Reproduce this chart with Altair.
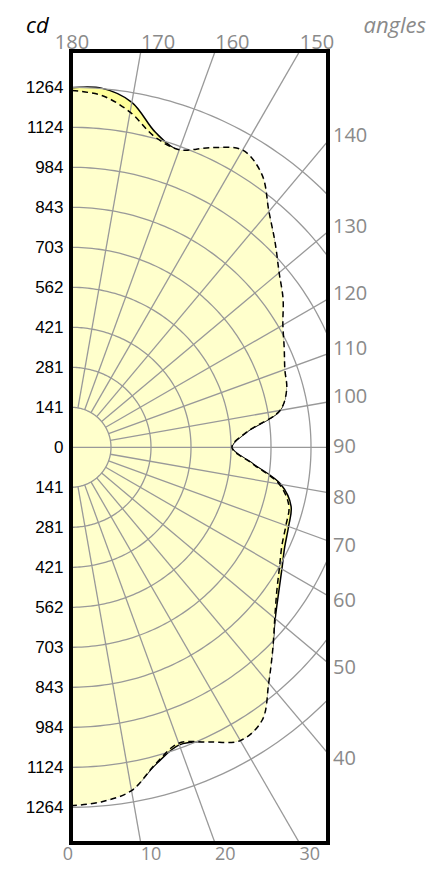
import math
import numpy as np
import pandas as pd
import altair as alt

# ---------------- data ----------------
angles = list(range(0, 181, 5))
solid_cd = [1255, 1245, 1220, 1152, 1112, 1138, 1185, 1166, 1076, 1000,
            936, 890, 855, 828, 813, 800, 748, 638, 565, 620,
            745, 782, 795, 822, 855, 905, 950, 1010, 1077, 1165,
            1201, 1157, 1108, 1145, 1230, 1265, 1262]
dashed_cd = [1259, 1249, 1224, 1150, 1106, 1142, 1189, 1170, 1080, 1002,
             934, 882, 845, 817, 803, 792, 742, 636, 565, 620,
             745, 784, 799, 826, 859, 909, 954, 1014, 1081, 1169,
             1205, 1161, 1112, 1130, 1195, 1240, 1253]
ring_labels = ["0", "141", "281", "421", "562", "703", "843", "984", "1124", "1264"]
ring_max = 1264
n_rings = 9
top_angles = [170, 160, 150]
corner_top = [180]
right_angles = [140, 130, 120, 110, 100, 90, 80, 70, 60, 50, 40]
bottom_angles = [10, 20, 30]
corner_bottom = [0]
spoke_angles = list(range(10, 180, 10))

# ---------------- layout ----------------
W, H = 257, 792
PAD_TOP = 43
step = ring_max / n_rings
px_per_cd = 40.0 / step
X_MAX = W / px_per_cd
ORIGIN_FROM_TOP = 396.3
Y_TOP = ORIGIN_FROM_TOP / px_per_cd
Y_BOT = -(H - ORIGIN_FROM_TOP) / px_per_cd

GRID = "#999999"
LABEL_GRAY = "#8a8a8a"


def polar(a_deg, r):
    t = math.radians(a_deg)
    return r * math.sin(t), -r * math.cos(t)


def curve_df(vals):
    rows = []
    for i, (a, v) in enumerate(zip(angles, vals)):
        x, y = polar(a, v)
        rows.append({"x": x, "y": y, "o": i})
    return pd.DataFrame(rows)


df_solid = curve_df(solid_cd)
df_dashed = curve_df(dashed_cd)

ring_rows = []
for k in range(1, n_rings + 1):
    for j, a in enumerate(np.arange(0, 180.5, 1.0)):
        x, y = polar(a, k * step)
        ring_rows.append({"x": x, "y": y, "ring": k, "o": j})
df_rings = pd.DataFrame(ring_rows)

spoke_rows = []
for a in spoke_angles:
    r0 = 0 if a == 90 else step
    x0, y0 = polar(a, r0)
    x1, y1 = polar(a, 5000)
    spoke_rows.append({"x": x0, "y": y0, "x2": x1, "y2": y1})
df_spokes = pd.DataFrame(spoke_rows)


def top_pos(a):
    return -Y_TOP * math.tan(math.radians(a)) if a != 180 else 0.0


def bot_pos(a):
    return -Y_BOT * math.tan(math.radians(a))


def right_pos(a):
    t = math.radians(a)
    return -X_MAX * math.cos(t) / math.sin(t)


df_top = pd.DataFrame({"x": [top_pos(a) for a in top_angles], "y": [Y_TOP] * len(top_angles),
                       "t": [str(a) for a in top_angles]})
df_top180 = pd.DataFrame({"x": [0.0], "y": [Y_TOP], "t": [str(a) for a in corner_top]})
df_bot = pd.DataFrame({"x": [bot_pos(a) for a in bottom_angles], "y": [Y_BOT] * len(bottom_angles),
                       "t": [str(a) for a in bottom_angles]})
df_bot0 = pd.DataFrame({"x": [0.0], "y": [Y_BOT], "t": [str(a) for a in corner_bottom]})
df_right = pd.DataFrame({"x": [X_MAX] * len(right_angles),
                         "y": [right_pos(a) for a in right_angles],
                         "a": right_angles,
                         "t": [str(a) for a in right_angles]})

# ---------------- scales / axes ----------------
xs = alt.Scale(domain=[0, X_MAX], nice=False, zero=False)
ys = alt.Scale(domain=[Y_BOT, Y_TOP], nice=False, zero=False)

label_arr = "[" + ",".join("'" + s + "'" for s in ring_labels) + "]"
y_axis = alt.Axis(
    values=[k * step for k in range(-n_rings, n_rings + 1)],
    labelExpr=label_arr + "[round(abs(datum.value)/" + repr(step) + ")]",
    domain=False, ticks=False, grid=False, title=None,
    labelPadding=8, labelFont="Liberation Sans", labelFontSize=17,
    labelColor="black", labelFlush=False, labelOverlap=False,
)


def X(field="x"):
    return alt.X(field + ":Q", scale=xs, axis=None)


def Y(field="y"):
    return alt.Y(field + ":Q", scale=ys, axis=y_axis)


fill_solid = alt.Chart(df_solid).mark_line(
    fill="#FFFF99", strokeWidth=0, interpolate="catmull-rom"
).encode(x=X(), y=Y(), order="o:Q")

line_solid = alt.Chart(df_solid).mark_line(
    color="black", strokeWidth=1.5, interpolate="catmull-rom"
).encode(x=X(), y=Y(), order="o:Q")

fill_dashed = alt.Chart(df_dashed).mark_line(
    fill="#FFFFCC", strokeWidth=0, interpolate="catmull-rom"
).encode(x=X(), y=Y(), order="o:Q")

rings = alt.Chart(df_rings).mark_line(
    color=GRID, strokeWidth=1.3, clip=True
).encode(x=X(), y=Y(), detail="ring:N", order="o:Q")

spokes = alt.Chart(df_spokes).mark_rule(
    color=GRID, strokeWidth=1.3, clip=True
).encode(x=X(), y=Y(), x2="x2:Q", y2="y2:Q")

line_dashed = alt.Chart(df_dashed).mark_line(
    color="black", strokeWidth=1.5, strokeDash=[6, 4], interpolate="catmull-rom"
).encode(x=X(), y=Y(), order="o:Q")

frame = alt.Chart(pd.DataFrame({"k": [0]})).mark_rect(
    filled=False, stroke="black", strokeWidth=4
).encode(x=alt.value(0), x2=alt.value(W), y=alt.value(0), y2=alt.value(H))

tfont = dict(font="Open Sans", fontSize=20, color=LABEL_GRAY)
bfont = dict(font="Open Sans", fontSize=18, color=LABEL_GRAY)

t_top = alt.Chart(df_top).mark_text(align="left", baseline="alphabetic", dy=-2, **tfont).encode(
    x=X(), y=Y(), text="t:N")
t_top180 = alt.Chart(df_top180).mark_text(align="center", baseline="alphabetic", dy=-2, dx=1, **tfont).encode(
    x=X(), y=Y(), text="t:N")
t_bot = alt.Chart(df_bot).mark_text(align="left", baseline="alphabetic", dy=17, **bfont).encode(
    x=X(), y=Y(), text="t:N")
t_bot0 = alt.Chart(df_bot0).mark_text(align="center", baseline="alphabetic", dy=17, dx=-3, **bfont).encode(
    x=X(), y=Y(), text="t:N")
t_right_hi = alt.Chart(df_right).transform_filter("datum.a > 90").mark_text(
    align="left", baseline="alphabetic", dx=5, dy=1, **tfont).encode(x=X(), y=Y(), text="t:N")
t_right_mid = alt.Chart(df_right).transform_filter("datum.a == 90").mark_text(
    align="left", baseline="alphabetic", dx=5, dy=6, **tfont).encode(x=X(), y=Y(), text="t:N")
t_right_lo = alt.Chart(df_right).transform_filter("datum.a < 90").mark_text(
    align="left", baseline="alphabetic", dx=5, dy=11.5, **tfont).encode(x=X(), y=Y(), text="t:N")

t_cd = alt.Chart(pd.DataFrame({"t": ["cd"]})).mark_text(
    align="left", baseline="alphabetic", font="Open Sans", fontSize=22, fontStyle="italic", color="black"
).encode(x=alt.value(-45), y=alt.value(32.5 - 8 - PAD_TOP), text="t:N")
t_angles = alt.Chart(pd.DataFrame({"t": ["angles"]})).mark_text(
    align="right", baseline="alphabetic", font="Open Sans", fontSize=22, fontStyle="italic", color=LABEL_GRAY
).encode(x=alt.value(355), y=alt.value(32.5 - 8 - PAD_TOP), text="t:N")

chart = alt.layer(
    fill_solid, line_solid, fill_dashed, rings, spokes, line_dashed, frame,
    t_top, t_top180, t_bot, t_bot0, t_right_hi, t_right_mid, t_right_lo, t_cd, t_angles
).properties(
    width=W, height=H,
    autosize=alt.AutoSizeParams(type="none"),
    padding={"left": 63, "top": PAD_TOP, "right": 99, "bottom": 23},
).configure_view(stroke="transparent")

chart.save("out.html", embed_options={"renderer": "svg", "actions": False})
